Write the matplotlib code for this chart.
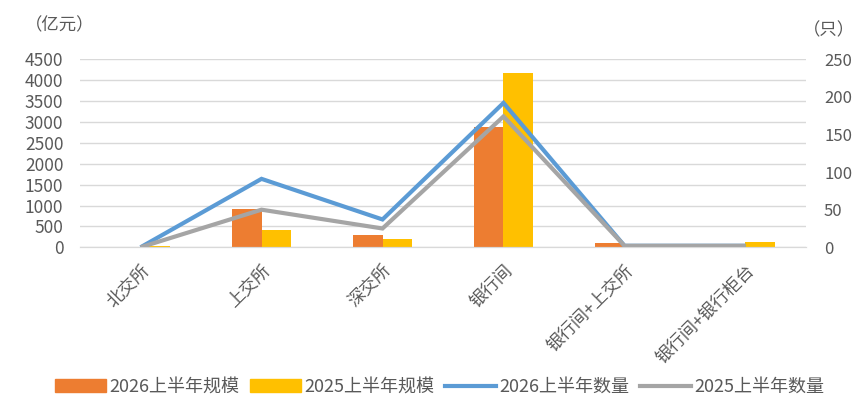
import matplotlib
matplotlib.use("Agg")
import matplotlib.pyplot as plt
import numpy as np
from matplotlib.patches import Patch
from matplotlib.lines import Line2D

plt.rcParams['font.family'] = ['Noto Sans CJK SC', 'DejaVu Sans']
plt.rcParams['font.weight'] = 'light'

categories = ["北交所", "上交所", "深交所", "银行间", "银行间+上交所", "银行间+银行柜台"]
scale_2026 = [5, 920, 295, 2880, 110, 0]
scale_2025 = [30, 410, 200, 4180, 0, 130]
count_2026 = [0, 91, 37, 192, 2, 2]
count_2025 = [0, 50, 25, 174, 2, 2]

c_orange = "#ED7D31"
c_yellow = "#FFC000"
c_blue = "#5B9BD5"
c_gray = "#A5A5A5"
txt = "#595959"
grid = "#D9D9D9"

fig = plt.figure(figsize=(8.66, 4.18), dpi=100)
ax = fig.add_axes([0.0924, 0.4084, 0.8383, 0.4498])
ax2 = ax.twinx()

x = np.arange(len(categories))
w = 0.24
ax.bar(x - w / 2, scale_2026, width=w, color=c_orange, zorder=2)
ax.bar(x + w / 2, scale_2025, width=w, color=c_yellow, zorder=2)
ax2.plot(x, count_2026, color=c_blue, lw=3, solid_joinstyle='miter', solid_capstyle='butt')
ax2.plot(x, count_2025, color=c_gray, lw=3, solid_joinstyle='miter', solid_capstyle='butt')

ax.set_xlim(-0.5, len(categories) - 0.5)
ax.set_ylim(0, 4500)
ax.set_yticks(np.arange(0, 4501, 500))
ax2.set_ylim(0, 250)
ax2.set_yticks(np.arange(0, 251, 50))

ax.grid(axis='y', color=grid, lw=1, zorder=0)
ax.set_axisbelow(True)
for a in (ax, ax2):
    for s in ('top', 'left', 'right'):
        a.spines[s].set_visible(False)
    a.spines['bottom'].set_color(grid)
    a.tick_params(length=0, colors=txt, labelsize=12.5)

ax.tick_params(axis='y', pad=12)
ax2.tick_params(axis='y', pad=13, labelsize=12)
ax.set_xticks(x)
ax.set_xticklabels(categories, rotation=45, ha='right', va='top', rotation_mode='anchor',
                   fontsize=12.5, color=txt)
ax.tick_params(axis='x', pad=10)

fig.text(25 / 866, 1 - 25 / 418, "（亿元）", fontsize=12.5, color=txt, ha='left', va='center')
fig.text(803 / 866, 1 - 30 / 418, "（只）", fontsize=12.5, color=txt, ha='left', va='center')

handles = [Patch(color=c_orange), Patch(color=c_yellow),
           Line2D([0], [0], color=c_blue, lw=3), Line2D([0], [0], color=c_gray, lw=3)]
labels = ["2026上半年规模", "2025上半年规模", "2026上半年数量", "2025上半年数量"]
leg = fig.legend(handles, labels, loc='center', bbox_to_anchor=(440 / 866, 1 - 387 / 418),
                 ncol=4, frameon=False, fontsize=13, handlelength=2.8, handleheight=0.7,
                 columnspacing=0.6, handletextpad=0.2, labelcolor=txt)

fig.savefig("out.png", dpi=100)
